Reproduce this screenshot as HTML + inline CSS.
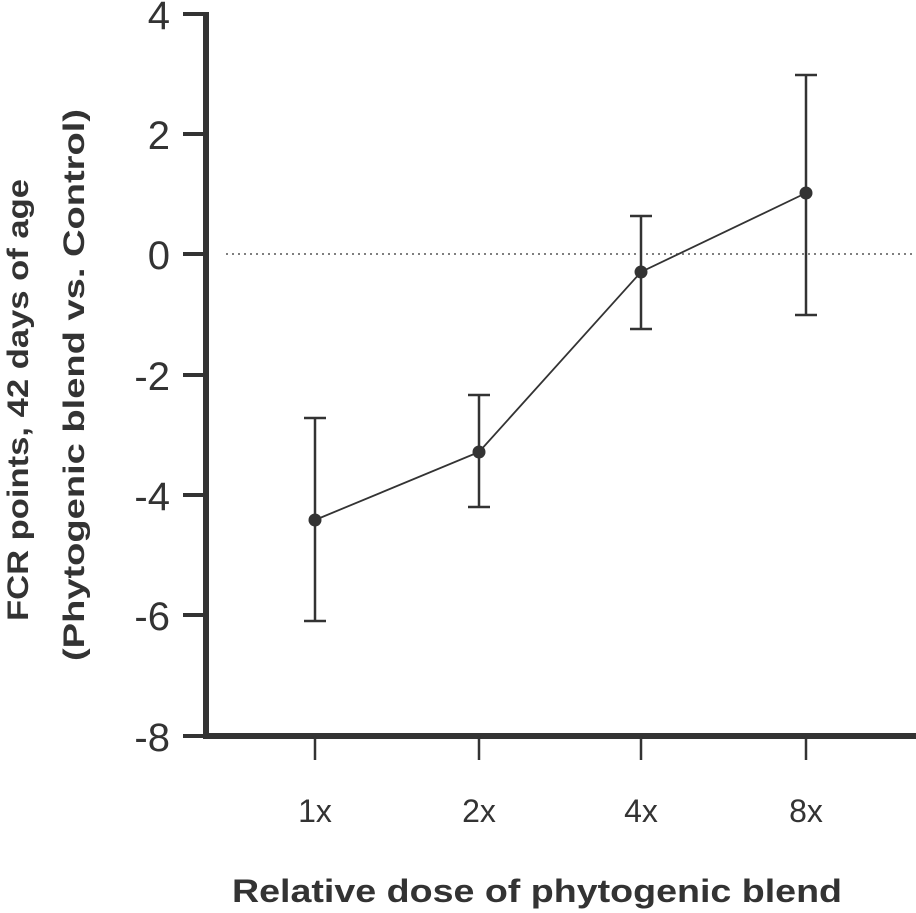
<!DOCTYPE html>
<html><head><style>
html,body{margin:0;padding:0;background:#fff;}
svg{display:block;}
text{font-family:"Liberation Sans",sans-serif;fill:#333;}
</style></head><body>
<svg width="916" height="913" viewBox="0 0 916 913" xmlns="http://www.w3.org/2000/svg">
<line x1="226" y1="254" x2="916" y2="254" stroke="#555" stroke-width="1.5" stroke-dasharray="2,4"/>
<line x1="206" y1="12" x2="206" y2="739" stroke="#333" stroke-width="6"/>
<line x1="203" y1="736" x2="916" y2="736" stroke="#333" stroke-width="6"/>
<g stroke="#333" stroke-width="4">
<line x1="183" y1="14" x2="206" y2="14"/>
<line x1="183" y1="134" x2="206" y2="134"/>
<line x1="183" y1="254" x2="206" y2="254"/>
<line x1="183" y1="375" x2="206" y2="375"/>
<line x1="183" y1="495" x2="206" y2="495"/>
<line x1="183" y1="615" x2="206" y2="615"/>
<line x1="183" y1="736" x2="206" y2="736"/>
</g>
<g stroke="#333" stroke-width="2.5">
<line x1="315" y1="736" x2="315" y2="760"/>
<line x1="479" y1="736" x2="479" y2="760"/>
<line x1="641" y1="736" x2="641" y2="760"/>
<line x1="806" y1="736" x2="806" y2="760"/>
</g>
<g font-size="40" text-anchor="end">
<text x="170" y="29">4</text>
<text x="170" y="149">2</text>
<text x="170" y="269">0</text>
<text x="170" y="390">-2</text>
<text x="170" y="510">-4</text>
<text x="170" y="630">-6</text>
<text x="170" y="751">-8</text>
</g>
<g font-size="32" text-anchor="middle">
<text x="315" y="822">1x</text>
<text x="479" y="822">2x</text>
<text x="641" y="822">4x</text>
<text x="806" y="822">8x</text>
</g>
<text x="537" y="902" font-size="32" font-weight="bold" text-anchor="middle" textLength="610" lengthAdjust="spacingAndGlyphs">Relative dose of phytogenic blend</text>
<g transform="rotate(-90)">
<text x="-400" y="28" font-size="30" font-weight="bold" text-anchor="middle" textLength="442" lengthAdjust="spacingAndGlyphs">FCR points, 42 days of age</text>
<text x="-385" y="84" font-size="30" font-weight="bold" text-anchor="middle" textLength="552" lengthAdjust="spacingAndGlyphs">(Phytogenic blend vs. Control)</text>
</g>
<g stroke="#333" stroke-width="2.5">
<line x1="315" y1="418" x2="315" y2="621"/><line x1="304" y1="418" x2="326" y2="418"/><line x1="304" y1="621" x2="326" y2="621"/>
<line x1="479" y1="395" x2="479" y2="507"/><line x1="468" y1="395" x2="490" y2="395"/><line x1="468" y1="507" x2="490" y2="507"/>
<line x1="641" y1="216" x2="641" y2="329"/><line x1="630" y1="216" x2="652" y2="216"/><line x1="630" y1="329" x2="652" y2="329"/>
<line x1="806" y1="75" x2="806" y2="315"/><line x1="795" y1="75" x2="817" y2="75"/><line x1="795" y1="315" x2="817" y2="315"/>
</g>
<polyline points="315,520 479,452 641,272 806,193" fill="none" stroke="#333" stroke-width="1.8"/>
<g fill="#333">
<circle cx="315" cy="520" r="6.5"/><circle cx="479" cy="452" r="6.5"/><circle cx="641" cy="272" r="6.5"/><circle cx="806" cy="193" r="6.5"/>
</g>
</svg>
</body></html>
